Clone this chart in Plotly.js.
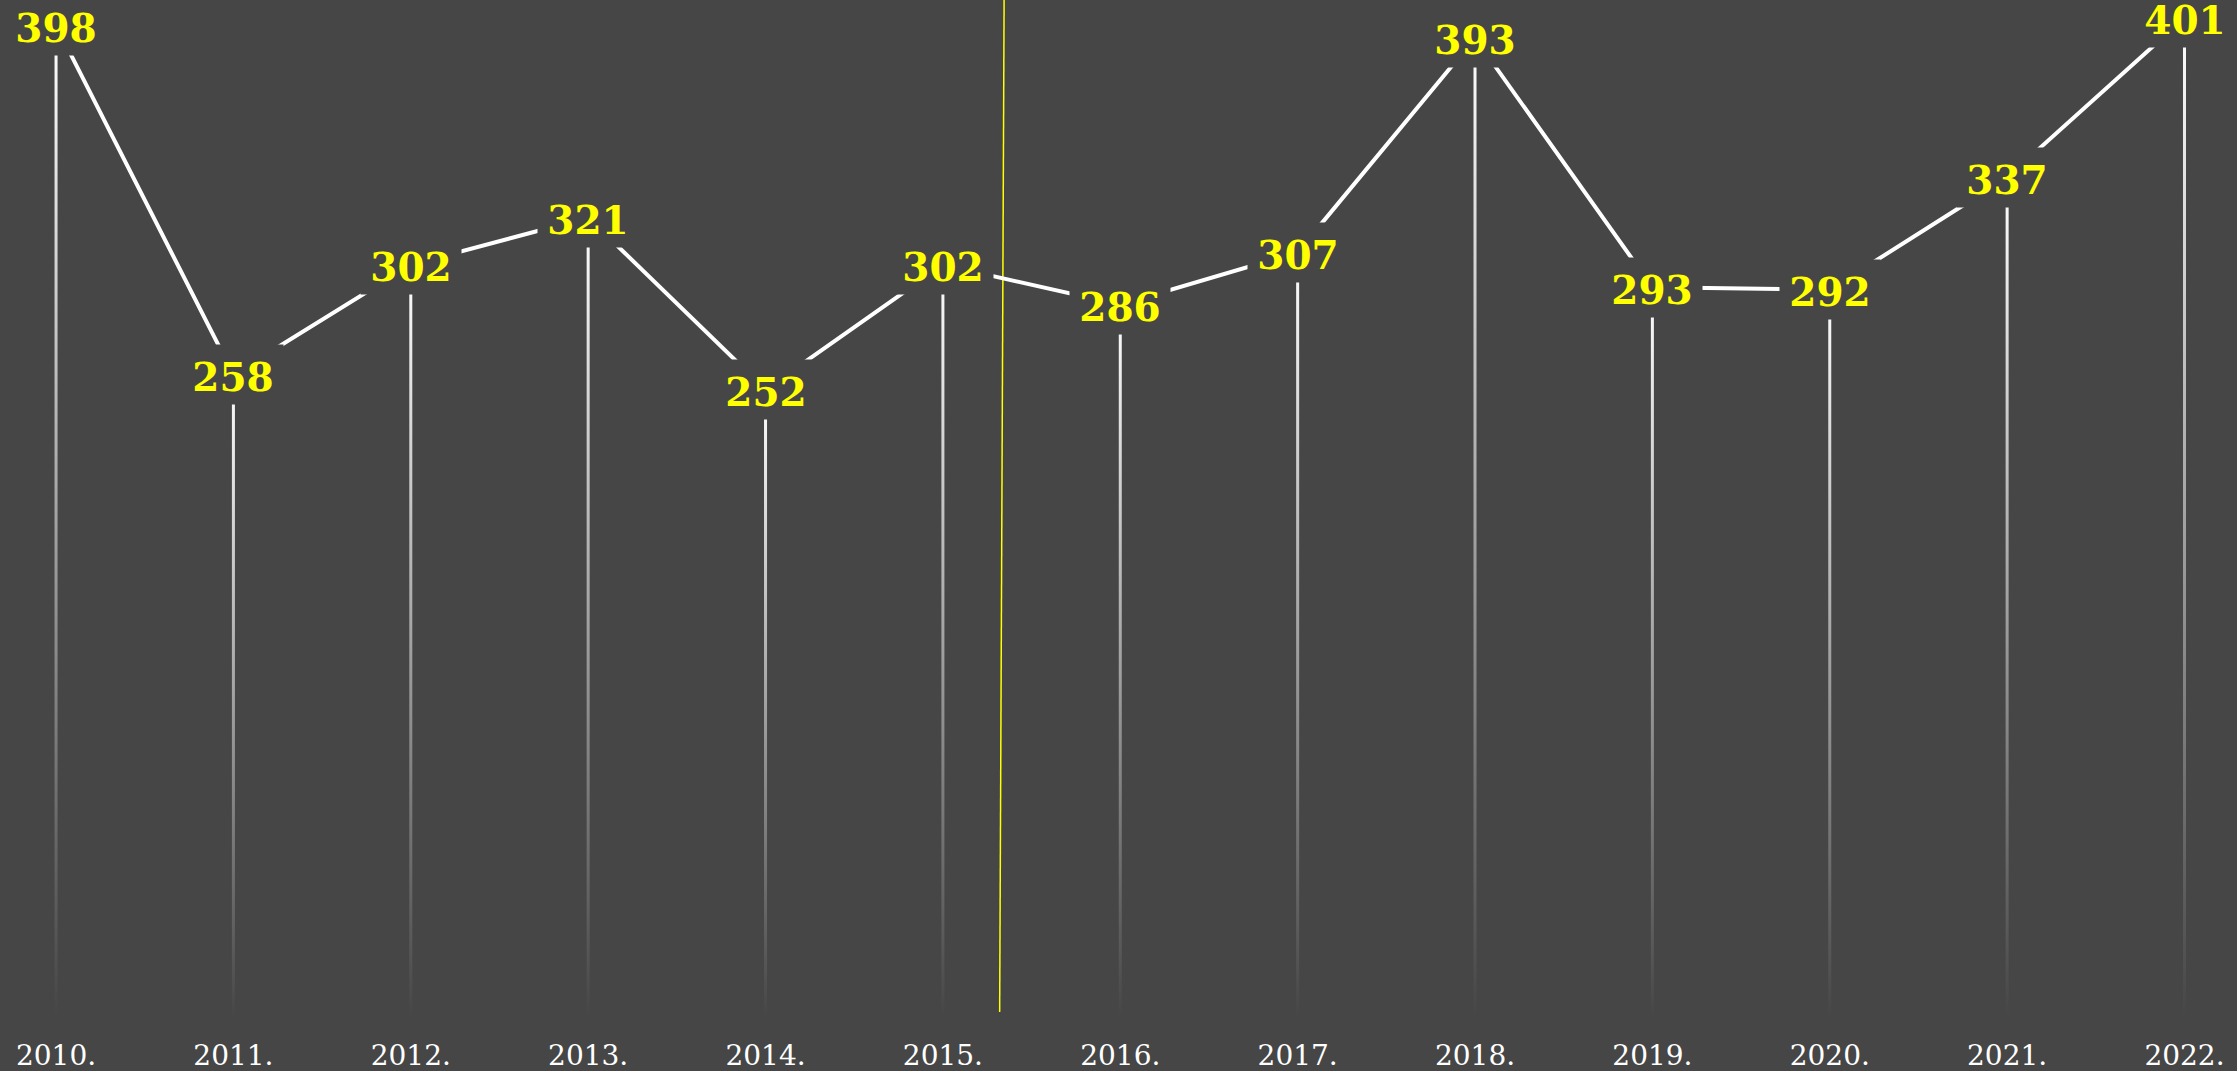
<!DOCTYPE html>
<html>
<head>
<meta charset="utf-8">
<script src="https://cdn.plot.ly/plotly-3.0.1.min.js"></script>
<style>
html,body{margin:0;padding:0;background:#464646;}
#chart{width:2237px;height:1071px;}
</style>
</head>
<body>
<div id="chart"></div>
<script>
const years = [2010, 2011, 2012, 2013, 2014, 2015, 2016, 2017, 2018, 2019, 2020, 2021, 2022];
const values = [398, 258, 302, 321, 252, 302, 286, 307, 393, 293, 292, 337, 401];
const tickLabels = ["2010.", "2011.", "2012.", "2013.", "2014.", "2015.", "2016.", "2017.", "2018.", "2019.", "2020.", "2021.", "2022."];
const dividerX = [2015.32, 2015.345];

const BG = "#464646";
const SERIF = "Georgia, 'DejaVu Serif', 'Liberation Serif', serif";
const halfW = 0.0085;

const traces = [];
// gradient drop lines
years.forEach((yr, i) => {
  traces.push({
    type: "scatter",
    mode: "none",
    x: [yr - halfW, yr + halfW, yr + halfW, yr - halfW, yr - halfW],
    y: [0, 0, values[i], values[i], 0],
    fill: "toself",
    fillcolor: "rgba(255,255,255,0.5)",
    fillgradient: {
      type: "vertical",
      start: 0,
      stop: values[i],
      colorscale: [[0, "rgba(255,255,255,0)"], [1, "rgba(255,255,255,1)"]]
    },
    hoverinfo: "skip",
    showlegend: false
  });
});
// main line
traces.push({
  type: "scatter",
  mode: "lines",
  x: years,
  y: values,
  line: {color: "#ffffff", width: 4},
  hoverinfo: "skip",
  showlegend: false
});

const annotations = years.map((yr, i) => ({
  x: yr, y: values[i], xref: "x", yref: "y",
  text: String(values[i]),
  showarrow: false,
  bgcolor: BG,
  width: 92, height: 51, borderpad: 4,
  valign: "bottom",
  font: {family: SERIF, size: 39, color: "#ffff00", weight: "bold"}
}));

const layout = {
  width: 2237, height: 1071,
  paper_bgcolor: BG, plot_bgcolor: BG,
  margin: {l: 0, r: 0, t: 0, b: 53},
  showlegend: false,
  xaxis: {
    range: [2009.684, 2022.296],
    tickvals: years, ticktext: tickLabels,
    showgrid: false, zeroline: false, showline: false, ticks: "",
    ticklabelstandoff: 18,
    tickfont: {family: SERIF, size: 28, color: "#ffffff"},
    fixedrange: true
  },
  yaxis: {
    range: [0, 408.2],
    visible: false, showgrid: false, zeroline: false, fixedrange: true
  },
  shapes: [{
    type: "line", xref: "x", yref: "paper",
    x0: dividerX[0], x1: dividerX[1], y0: 0.006, y1: 1,
    line: {color: "#ffff00", width: 1.5},
    layer: "below"
  }],
  annotations: annotations
};

Plotly.newPlot("chart", traces, layout, {displayModeBar: false, staticPlot: true});
</script>
</body>
</html>
